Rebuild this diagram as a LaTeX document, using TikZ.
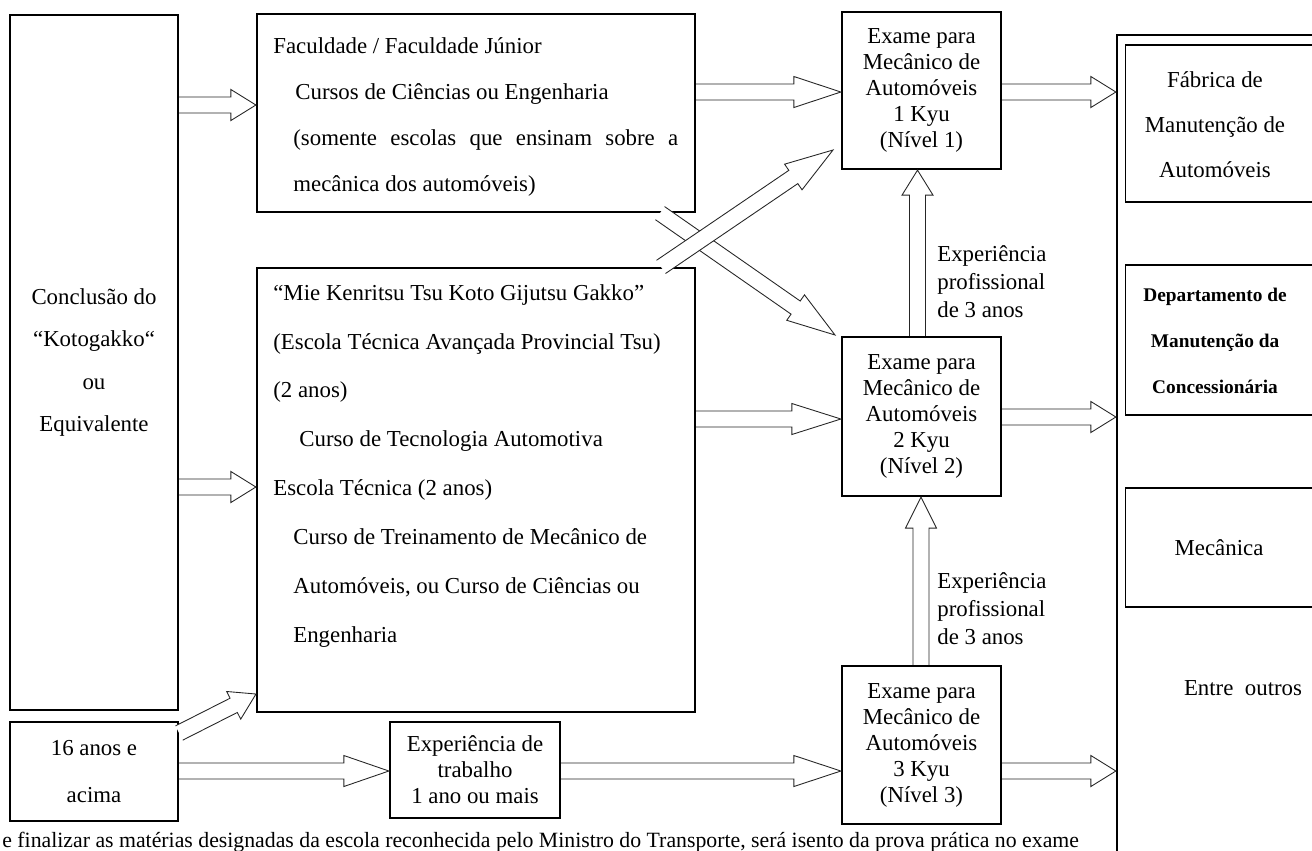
\documentclass[tikz,border=0pt]{standalone}
\usepackage{fontspec}
\setmainfont{Liberation Serif}
\usetikzlibrary{calc}

\tikzset{
	box/.style={draw, line width=1.3pt, inner sep=0pt, align=center},
	rbox/.style={draw, line width=0.6pt, inner sep=0pt},
	fat/.style={draw=black!85, line width=0.5pt, fill=white, line join=miter},
	txt/.style={font=\fontsize{13}{14.8}\selectfont},
	wide/.style={font=\fontsize{13}{26}\selectfont, inner sep=0pt},
}

% hollow block arrow: [head length]{from}{to}
\newcommand{\fatarrow}[3][0.5cm]{%
	\coordinate (hb) at ($(#3)!#1!(#2)$);
	\draw[fat] ($(#2)!0.16cm!90:(#3)$) -- ($(hb)!0.16cm!90:(#3)$) -- ($(hb)!0.31cm!90:(#3)$) -- (#3)
		-- ($(hb)!0.31cm!-90:(#3)$) -- ($(hb)!0.16cm!-90:(#3)$) -- ($(#2)!0.16cm!-90:(#3)$);
}

\begin{document}
\begin{tikzpicture}[x=0.02cm, y=-0.02cm]
	\useasboundingbox (0,0) rectangle (1312,850);
	
	%left column
	\node[box, txt, font=\fontsize{13}{24}\selectfont, minimum width=3.36cm, minimum height=13.9cm] (conc) at (94,362.5)
		{Conclusão do\\“Kotogakko“\\ou\\Equivalente};
	\node[box, wide, font=\fontsize{13}{26.7}\selectfont, minimum width=3.36cm, minimum height=1.98cm] (idade) at (94,771.5)
		{16 anos e\\acima};
	
	%schools
	\node[box, minimum width=8.76cm, minimum height=3.96cm] (fac) at (476,113) {};
	\node[wide, anchor=north west, align=left, font=\fontsize{13}{26.3}\selectfont] (factxt) at (273,37)
		{Faculdade / Faculdade Júnior\\
		\hspace*{0.44cm}Cursos de Ciências ou Engenharia\\
		\hspace*{0.4cm}\makebox[7.7cm][s]{(somente escolas que ensinam sobre a}\\
		\hspace*{0.4cm}mecânica dos automóveis)};
	\node[box, minimum width=8.76cm, minimum height=8.88cm] (mie) at (476,490) {};
	\node[wide, anchor=north west, align=left, font=\fontsize{13}{27.8}\selectfont] (mietxt) at (273,284)
		{“Mie Kenritsu Tsu Koto Gijutsu Gakko”\\
		(Escola Técnica Avançada Provincial Tsu)\\
		(2 anos)\\
		\hspace*{0.52cm}Curso de Tecnologia Automotiva\\
		Escola Técnica (2 anos)\\
		\hspace*{0.4cm}Curso de Treinamento de Mecânico de\\
		\hspace*{0.4cm}Automóveis, ou Curso de Ciências ou\\
		\hspace*{0.4cm}Engenharia};
	\node[box, txt, minimum width=3.4cm, minimum height=1.92cm] (trab) at (475,770)
		{Experiência de\\trabalho\\1 ano ou mais};
	
	%exams
	\node[box, txt, minimum width=3.18cm, minimum height=3.14cm] (exam1) at (921.5,90.5)
		{Exame para\\Mecânico de\\Automóveis\\1 Kyu\\(Nível 1)};
	\node[box, txt, minimum width=3.18cm, minimum height=3.18cm] (exam2) at (921.5,416.5)
		{Exame para\\Mecânico de\\Automóveis\\2 Kyu\\(Nível 2)};
	\node[box, txt, minimum width=3.18cm, minimum height=3.16cm] (exam3) at (921.5,745)
		{Exame para\\Mecânico de\\Automóveis\\3 Kyu\\(Nível 3)};
	\node[txt, font=\fontsize{13}{16}\selectfont, anchor=west, align=left, inner sep=0pt] (anos1) at (937,282)
		{Experiência\\profissional\\de 3 anos};
	\node[txt, font=\fontsize{13}{16}\selectfont, anchor=west, align=left, inner sep=0pt] (anos2) at (937,609)
		{Experiência\\profissional\\de 3 anos};
	
	%work places
	\node[box, minimum width=4.26cm, minimum height=16.7cm] (dest) at (1223.5,452.5) {};
	\node[rbox, minimum width=4.1cm, minimum height=3.14cm] (fab) at (1227.5,123.5) {};
	\node[wide, font=\fontsize{13}{25.6}\selectfont, align=center] (fabtxt) at (1215,125)
		{Fábrica de\\Manutenção de\\Automóveis};
	\node[rbox, minimum width=4.1cm, minimum height=3cm] (dept) at (1227.5,340) {};
	\node[wide, font=\fontsize{11}{26}\selectfont\bfseries, align=center] (depttxt) at (1215,341)
		{Departamento de\\Manutenção da\\Concessionária};
	\node[rbox, minimum width=4.1cm, minimum height=2.38cm] (mec) at (1227.5,547.5) {};
	\node[wide] (mectxt) at (1219,548) {Mecânica};
	\node[wide] (outros) at (1243,688) {Entre\ \ outros};
	
	%note
	\node[anchor=base west, inner sep=0pt, font=\fontsize{12.4}{14}\selectfont] (nota) at (2,847)
		{e finalizar as matérias designadas da escola reconhecida pelo Ministro do Transporte, será isento da prova prática no exame};
	
	%arrows
	\fatarrow{conc.east |- 0,105}{fac.west |- 0,105}
	\fatarrow{conc.east |- 0,487}{mie.west |- 0,487}
	\fatarrow{idade.east |- 0,733}{256,694}
	\fatarrow[0.9cm]{idade.east |- 0,771}{trab.west |- 0,771}
	\fatarrow[0.94cm]{trab.east |- 0,771}{exam3.west |- 0,771}
	\fatarrow[0.94cm]{fac.east |- 0,92}{exam1.west |- 0,92}
	\fatarrow[0.98cm]{mie.east |- 0,419}{exam2.west |- 0,419}
	\fatarrow[0.96cm]{fac.south -| 660,0}{835,335}
	\fatarrow[0.96cm]{mie.north -| 661,0}{833,150}
	\fatarrow{exam2.north -| 917.5,0}{exam1.south -| 917.5,0}
	\fatarrow[0.62cm]{exam3.north -| 921,0}{exam2.south -| 921,0}
	\fatarrow{exam1.east |- 0,92}{dest.west |- 0,92}
	\fatarrow{exam2.east |- 0,417}{dest.west |- 0,417}
	\fatarrow{exam3.east |- 0,771}{dest.west |- 0,771}
\end{tikzpicture}
\end{document}
